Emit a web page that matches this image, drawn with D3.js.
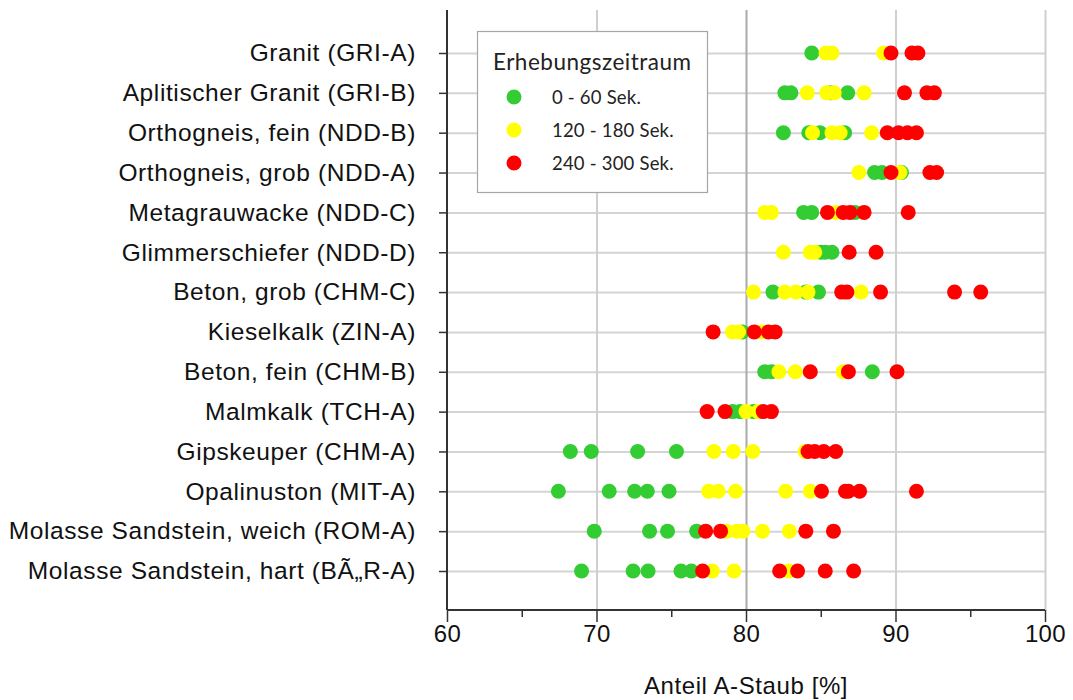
<!DOCTYPE html>
<html>
<head>
<meta charset="utf-8">
<script src="https://cdn.jsdelivr.net/npm/d3@7"></script>
<style>
  html, body { margin: 0; padding: 0; background: #fff; }
  svg { display: block; }
</style>
</head>
<body>
<svg id="chart" width="1073" height="700"></svg>
<script>
// Rock samples, top to bottom
const categories = [
  "Granit (GRI-A)",
  "Aplitischer Granit (GRI-B)",
  "Orthogneis, fein (NDD-B)",
  "Orthogneis, grob (NDD-A)",
  "Metagrauwacke (NDD-C)",
  "Glimmerschiefer (NDD-D)",
  "Beton, grob (CHM-C)",
  "Kieselkalk (ZIN-A)",
  "Beton, fein (CHM-B)",
  "Malmkalk (TCH-A)",
  "Gipskeuper (CHM-A)",
  "Opalinuston (MIT-A)",
  "Molasse Sandstein, weich (ROM-A)",
  "Molasse Sandstein, hart (BÃ\u201eR-A)"
];

// Anteil A-Staub [%] per sample, one list per sampling period
const sek0to60 = [
  [84.4],
  [82.6, 83.0, 85.65, 86.8],
  [82.5, 84.2, 84.95, 86.6],
  [88.6, 89.1, 90.4],
  [83.85, 84.4, 87.3],
  [85.0, 85.3, 85.75],
  [81.8, 84.0, 84.85],
  [79.75],
  [81.25, 81.7, 88.45],
  [79.1, 79.6, 80.5],
  [68.25, 69.65, 72.75, 75.35],
  [67.45, 70.85, 72.55, 73.4, 74.85],
  [69.85, 73.55, 74.75, 76.7],
  [69.0, 72.45, 73.45, 75.65, 76.35]
];
const sek120to180 = [
  [85.35, 85.75, 89.2],
  [84.1, 85.4, 85.9, 87.9],
  [84.45, 85.75, 86.3, 88.4],
  [87.55, 90.3],
  [81.25, 81.7, 86.0],
  [82.5, 84.3, 84.6],
  [80.5, 82.6, 83.35, 84.15, 87.7],
  [79.1, 79.5, 81.05],
  [82.2, 83.3, 86.5],
  [80.0, 80.8],
  [77.85, 79.15, 80.45, 83.95],
  [77.5, 78.15, 79.3, 82.65, 84.3],
  [78.7, 79.4, 79.8, 81.1, 82.9],
  [77.75, 79.2, 82.85]
];
const sek240to300 = [
  [89.7, 91.1, 91.5],
  [90.6, 92.1, 92.6],
  [89.45, 90.2, 90.8, 91.4],
  [89.7, 92.3, 92.75],
  [85.45, 86.5, 86.95, 87.9, 90.85],
  [86.9, 88.7],
  [86.4, 86.75, 89.0, 93.95, 95.7],
  [77.8, 80.55, 81.5, 81.95],
  [84.3, 86.85, 90.1],
  [77.4, 78.6, 81.15, 81.7],
  [84.15, 84.6, 85.2, 86.0],
  [85.05, 86.65, 86.85, 87.6, 91.4],
  [77.3, 78.3, 84.0, 85.85],
  [77.1, 82.25, 83.45, 85.3, 87.2]
];

const seriesNames = ["0 - 60 Sek.", "120 - 180 Sek.", "240 - 300 Sek."];
const seriesColors = ["#33cc33", "#ffff00", "#ff0000"];
const seriesValues = [sek0to60, sek120to180, sek240to300];

const xMajorTicks = [60, 70, 80, 90, 100];
const xMinorTicks = [65, 75, 85, 95];
const xTitle = "Anteil A-Staub [%]";
const legendTitle = "Erhebungszeitraum";

const svg = d3.select("#chart");
const plot = { left: 447, right: 1045, top: 10, bottom: 610 };
const axisFont = "'Liberation Sans', Arial, sans-serif";
const legendFont = "Lato, 'Open Sans', sans-serif";

const x = d3.scaleLinear().domain([60, 100]).range([plot.left, plot.right]);
const y = d3.scalePoint().domain(categories).range([53, 571]);

// horizontal gridlines at each sample row
svg.append("g")
  .attr("transform", `translate(${plot.left},0)`)
  .call(d3.axisLeft(y).tickSize(-(plot.right - plot.left)).tickFormat(""))
  .call(g => g.select(".domain").remove())
  .call(g => g.selectAll("line").attr("stroke", "#d4d4d4").attr("stroke-width", 2));

// vertical gridlines
svg.append("g")
  .attr("transform", `translate(0,${plot.bottom})`)
  .call(d3.axisBottom(x).tickValues(xMajorTicks.slice(1)).tickSize(-(plot.bottom - plot.top)).tickFormat(""))
  .call(g => g.select(".domain").remove())
  .call(g => g.selectAll("line")
    .attr("stroke", d => d === 80 ? "#aaaaaa" : "#cfcfcf")
    .attr("stroke-width", 2));

// dots: one group per sampling period, later periods drawn on top
seriesValues.forEach((vals, si) => {
  const pts = [];
  vals.forEach((row, ci) => row.forEach(v => pts.push({ cat: categories[ci], v })));
  svg.append("g").selectAll("circle")
    .data(pts)
    .join("circle")
    .attr("cx", d => x(d.v))
    .attr("cy", d => y(d.cat))
    .attr("r", 7.5)
    .attr("fill", seriesColors[si]);
});

// y axis
const yAxis = svg.append("g")
  .attr("transform", `translate(${plot.left},0)`)
  .call(d3.axisLeft(y).tickSize(8).tickPadding(23));
yAxis.select(".domain").remove();
yAxis.selectAll("line").attr("stroke", "#333").attr("stroke-width", 1.5);
yAxis.selectAll("text")
  .attr("font-family", axisFont)
  .attr("font-size", 24.5)
  .attr("letter-spacing", 0.6)
  .attr("fill", "#111");
svg.append("line")
  .attr("x1", plot.left).attr("x2", plot.left)
  .attr("y1", plot.top).attr("y2", plot.bottom)
  .attr("stroke", "#333").attr("stroke-width", 2);

// x axis (major + minor ticks)
const xAxis = svg.append("g")
  .attr("transform", `translate(0,${plot.bottom})`)
  .call(d3.axisBottom(x).tickValues(xMajorTicks).tickSize(12).tickPadding(3));
xAxis.select(".domain").remove();
xAxis.selectAll("line").attr("stroke", "#333").attr("stroke-width", 1.5);
xAxis.selectAll("text")
  .attr("font-family", axisFont)
  .attr("font-size", 24)
  .attr("letter-spacing", 0.4)
  .attr("fill", "#111");
svg.append("g")
  .attr("transform", `translate(0,${plot.bottom})`)
  .call(d3.axisBottom(x).tickValues(xMinorTicks).tickSize(7).tickFormat(""))
  .call(g => g.select(".domain").remove())
  .call(g => g.selectAll("line").attr("stroke", "#333").attr("stroke-width", 1.5));
svg.append("line")
  .attr("x1", plot.left).attr("x2", plot.right)
  .attr("y1", plot.bottom).attr("y2", plot.bottom)
  .attr("stroke", "#333").attr("stroke-width", 2);

svg.append("text")
  .attr("x", (plot.left + plot.right) / 2)
  .attr("y", 694)
  .attr("text-anchor", "middle")
  .attr("font-family", axisFont)
  .attr("font-size", 24)
  .attr("letter-spacing", 0.6)
  .attr("fill", "#111")
  .text(xTitle);

// legend
const legend = svg.append("g").attr("transform", "translate(477,31)");
legend.append("rect")
  .attr("x", 0.5).attr("y", 0.5)
  .attr("width", 230).attr("height", 161)
  .attr("fill", "#fff")
  .attr("stroke", "#a6a6a6")
  .attr("stroke-width", 1.2);
legend.append("text")
  .attr("x", 16).attr("y", 39)
  .attr("font-family", legendFont)
  .attr("font-size", 22.5)
  .attr("letter-spacing", 0.5)
  .attr("fill", "#222")
  .text(legendTitle);
const items = legend.selectAll("g.item")
  .data(seriesNames)
  .join("g")
  .attr("class", "item")
  .attr("transform", (d, i) => `translate(0,${66 + i * 33})`);
items.append("circle")
  .attr("cx", 37).attr("cy", 0).attr("r", 7.5)
  .attr("fill", (d, i) => seriesColors[i]);
items.append("text")
  .attr("x", 75).attr("y", 6.5)
  .attr("font-family", legendFont)
  .attr("font-size", 18.5)
  .attr("letter-spacing", 0.2)
  .attr("fill", "#222")
  .text(d => d);
</script>
</body>
</html>
